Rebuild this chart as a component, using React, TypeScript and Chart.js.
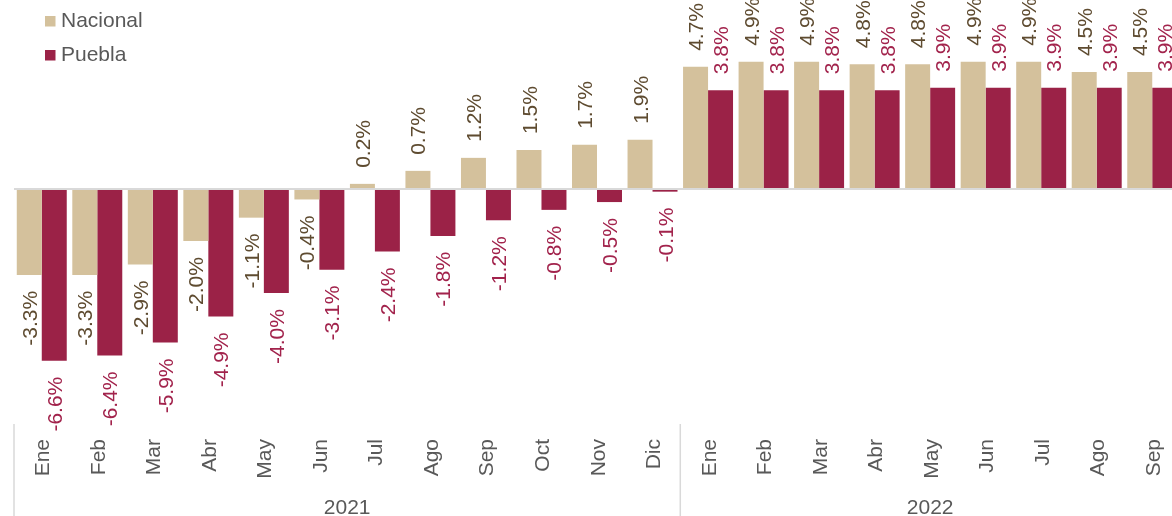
import React, { useEffect, useRef } from "react";
import { Chart, registerables } from "chart.js";

Chart.register(...registerables);

const months2021 = ["Ene", "Feb", "Mar", "Abr", "May", "Jun", "Jul", "Ago", "Sep", "Oct", "Nov", "Dic"];
const months2022 = ["Ene", "Feb", "Mar", "Abr", "May", "Jun", "Jul", "Ago", "Sep"];
const categories = [...months2021, ...months2022];
const yearLabels = ["2021", "2022"];
const yearMonthCounts = [months2021.length, months2022.length];

const nacional = [-3.3, -3.3, -2.9, -2.0, -1.1, -0.4, 0.2, 0.7, 1.2, 1.5, 1.7, 1.9, 4.7, 4.9, 4.9, 4.8, 4.8, 4.9, 4.9, 4.5, 4.5];
const puebla = [-6.6, -6.4, -5.9, -4.9, -4.0, -3.1, -2.4, -1.8, -1.2, -0.8, -0.5, -0.1, 3.8, 3.8, 3.8, 3.8, 3.9, 3.9, 3.9, 3.9, 3.9];

const seriesNames = ["Nacional", "Puebla"];
const barColors = ["#D4C19C", "#9B2247"];
const labelColors = ["#5E4B30", "#A2234C"];

const FONT = "'Liberation Sans', Arial, sans-serif";
const FS = 21;

const overlayPlugin = {
  id: "overlay",
  afterDatasetsDraw(chart: any) {
    const ctx = chart.ctx as CanvasRenderingContext2D;
    const area = chart.chartArea;
    const xs = chart.scales.x;
    const ys = chart.scales.y;
    ctx.save();

    // zero line
    const y0 = ys.getPixelForValue(0);
    ctx.strokeStyle = "#D9D9D9";
    ctx.lineWidth = 2;
    ctx.beginPath();
    ctx.moveTo(area.left, y0);
    ctx.lineTo(area.right, y0);
    ctx.stroke();

    // data labels
    ctx.font = `${FS}px ${FONT}`;
    chart.data.datasets.forEach((ds: any, di: number) => {
      const meta = chart.getDatasetMeta(di);
      ctx.fillStyle = labelColors[di];
      meta.data.forEach((bar: any, i: number) => {
        const v = ds.data[i] as number;
        const txt = v.toFixed(1) + "%";
        ctx.save();
        if (v >= 0) {
          ctx.translate(bar.x, bar.y - 16);
          ctx.rotate(-Math.PI / 2);
          ctx.textAlign = "left";
        } else {
          ctx.translate(bar.x, bar.y + 16);
          ctx.rotate(-Math.PI / 2);
          ctx.textAlign = "right";
        }
        ctx.textBaseline = "alphabetic";
        ctx.fillText(txt, 0, FS * 0.358);
        ctx.restore();
      });
    });

    // month labels
    ctx.fillStyle = "#595959";
    chart.data.labels.forEach((lab: string, i: number) => {
      const px = xs.getPixelForValue(i);
      ctx.save();
      ctx.translate(px, 439);
      ctx.rotate(-Math.PI / 2);
      ctx.textAlign = "right";
      ctx.textBaseline = "alphabetic";
      ctx.fillText(lab, 0, FS * 0.358);
      ctx.restore();
    });

    // year groups and separators
    const half = (xs.getPixelForValue(1) - xs.getPixelForValue(0)) / 2;
    let start = 0;
    ctx.strokeStyle = "#D9D9D9";
    ctx.lineWidth = 1.5;
    yearLabels.forEach((yl, k) => {
      const n = yearMonthCounts[k];
      const left = xs.getPixelForValue(start) - half;
      const right = xs.getPixelForValue(start + n - 1) + half;
      ctx.beginPath();
      ctx.moveTo(left, 424);
      ctx.lineTo(left, 516);
      ctx.stroke();
      if (k === yearLabels.length - 1) {
        ctx.beginPath();
        ctx.moveTo(right, 424);
        ctx.lineTo(right, 516);
        ctx.stroke();
      }
      ctx.textAlign = "center";
      ctx.textBaseline = "alphabetic";
      ctx.fillText(yl, (left + right) / 2, 514);
      start += n;
    });

    // legend
    chart.data.datasets.forEach((ds: any, di: number) => {
      const base = 27 + di * 34;
      ctx.fillStyle = ds.backgroundColor;
      ctx.fillRect(45, base - 11, 10.5, 10.5);
      ctx.fillStyle = "#595959";
      ctx.textAlign = "left";
      ctx.textBaseline = "alphabetic";
      ctx.fillText(ds.label, 61, base);
    });

    ctx.restore();
  },
};

export default function App() {
  const ref = useRef<HTMLCanvasElement>(null);
  useEffect(() => {
    if (!ref.current) return;
    const chart = new Chart(ref.current, {
      type: "bar",
      data: {
        labels: categories,
        datasets: [
          {
            label: seriesNames[0],
            data: nacional,
            backgroundColor: barColors[0],
            borderWidth: 0,
            categoryPercentage: 0.9,
            barPercentage: 1.0,
          },
          {
            label: seriesNames[1],
            data: puebla,
            backgroundColor: barColors[1],
            borderWidth: 0,
            categoryPercentage: 0.9,
            barPercentage: 1.0,
          },
        ],
      },
      options: {
        responsive: false,
        animation: false,
        layout: { padding: { left: 14, right: 0, top: 0, bottom: 96 } },
        plugins: { legend: { display: false }, tooltip: { enabled: false } },
        scales: {
          x: { display: false },
          y: { display: false, min: -8.88, max: 7.27 },
        },
      },
      plugins: [overlayPlugin],
    });
    return () => chart.destroy();
  }, []);
  return (
    <div style={{ position: "fixed", left: 0, top: 0, width: 1172, height: 516, overflow: "hidden", background: "#fff" }}>
      <canvas ref={ref} width={1180} height={516} style={{ display: "block", width: 1180, height: 516 }} />
    </div>
  );
}
